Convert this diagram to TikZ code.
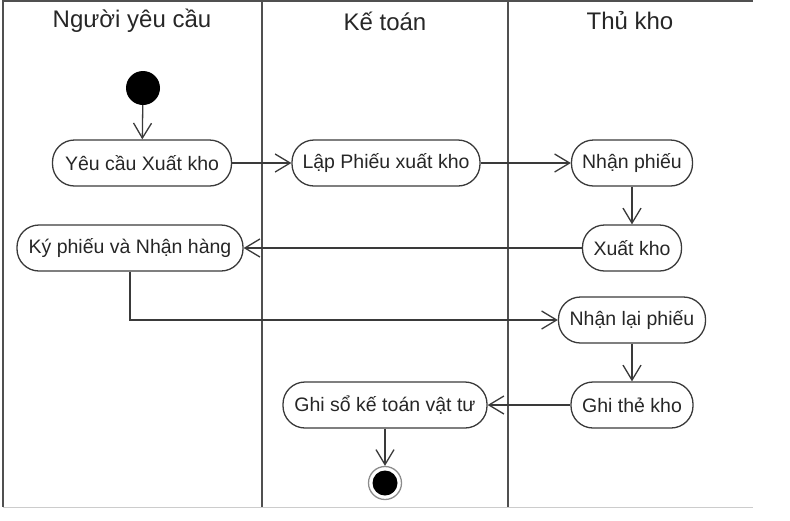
\documentclass[tikz,border=0pt]{standalone}
\usepackage{fontspec}
\setmainfont{Liberation Sans}
\usetikzlibrary{arrows.meta}
\definecolor{linec}{HTML}{3A3A3A}
\definecolor{framec}{HTML}{505050}
\begin{document}
\begin{tikzpicture}[x=1pt,y=-1pt,
  act/.style={draw=linec, line width=1.3pt, rounded corners=22pt, minimum height=46pt, inner xsep=4pt, font=\fontsize{19.5}{22}\selectfont, text=black!85},
  flow/.style={draw=linec, line width=1.3pt, -{Straight Barb[length=15pt,width=18pt,line width=1.3pt]}},
  lanehead/.style={font=\fontsize{24}{28}\selectfont, text=black!85}]
\useasboundingbox (0,0) rectangle (790,520);
% frame
\draw[framec, line width=1.4pt] (3,1) -- (753,1);
\draw[framec, line width=1.4pt] (3,0) -- (3,507);
\draw[framec, line width=1.4pt] (262,0) -- (262,507);
\draw[framec, line width=1.4pt] (508,0) -- (508,507);
\draw[black!20, line width=1pt] (3,507) -- (753,507);
% lane headings
\node[lanehead] (h1) at (132,21) {Người yêu cầu};
\node[lanehead] (h2) at (385,21) {Kế toán};
\node[lanehead] (h3) at (630,21) {Thủ kho};
% nodes
\node[circle, fill=black, minimum size=34pt, inner sep=0pt] (start) at (143,88) {};
\node[act, minimum width=179pt] (req) at (142,163) {Yêu cầu Xuất kho};
\node[act, minimum width=188pt] (lap) at (386,163) {Lập Phiếu xuất kho};
\node[act, minimum width=121pt] (nhan) at (632,163) {Nhận phiếu};
\node[act, minimum width=99pt] (xuat) at (632,248) {Xuất kho};
\node[act, minimum width=226pt] (ky) at (130,248) {Ký phiếu và Nhận hàng};
\node[act, minimum width=147pt] (nhanlai) at (632,320) {Nhận lại phiếu};
\node[act, minimum width=122pt] (ghithe) at (632,405) {Ghi thẻ kho};
\node[act, minimum width=204pt] (ghiso) at (385,405) {Ghi sổ kế toán vật tư};
\node[circle, draw=black!45, line width=1.3pt, minimum size=33pt, inner sep=0pt] (end) at (385,483) {};
\node[circle, fill=black, minimum size=25pt, inner sep=0pt] (endin) at (end.center) {};
% flows
\draw[flow] (start) -- (req);
\draw[flow] (req) -- (lap);
\draw[flow] (lap) -- (nhan);
\draw[flow] (nhan) -- (xuat);
\draw[flow] (xuat) -- (ky);
\draw[flow] (ky.south) |- (nhanlai.west);
\draw[flow] (nhanlai) -- (ghithe);
\draw[flow] (ghithe) -- (ghiso);
\draw[flow] (ghiso) -- (end);
\end{tikzpicture}
\end{document}
